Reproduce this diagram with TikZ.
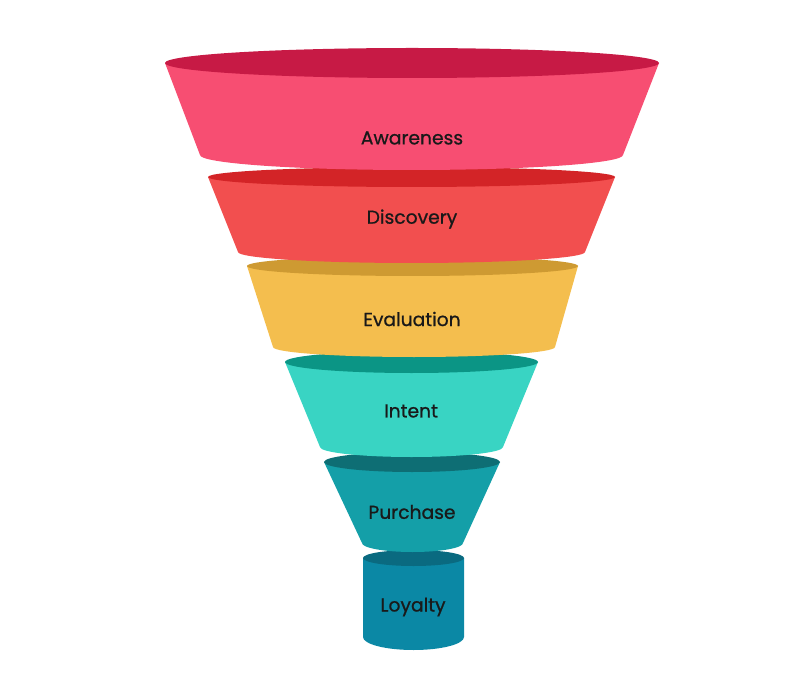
\documentclass[tikz,border=0pt]{standalone}
\usepackage{fontspec}
\setmainfont{Poppins}
\newfontfamily\lblfont[FakeBold=0.8]{Poppins}
\definecolor{awareside}{HTML}{F74E72}
\definecolor{awaretop}{HTML}{C71A45}
\definecolor{discside}{HTML}{F24F4F}
\definecolor{disctop}{HTML}{D32427}
\definecolor{evalside}{HTML}{F4BE4E}
\definecolor{evaltop}{HTML}{CE9A32}
\definecolor{intside}{HTML}{39D4C3}
\definecolor{inttop}{HTML}{0B9585}
\definecolor{purchside}{HTML}{149FA8}
\definecolor{purchtop}{HTML}{0E6E74}
\definecolor{loyside}{HTML}{0B88A5}
\definecolor{loytop}{HTML}{0A6A80}
\tikzset{
  lbl/.style={text=black!90, font=\lblfont\fontsize{13.3}{15}\selectfont}
}

\begin{document}
\begin{tikzpicture}[x=0.025cm, y=0.025cm]
\useasboundingbox (0,0) rectangle (800,-681);
\fill [loyside] (363,-558) -- (363,-637) arc [start angle=180, end angle=360, x radius=50.5, y radius=13] -- (464,-558) -- cycle;
\fill [loytop] (413.5,-558) ellipse [x radius=50.5, y radius=8];
\node (loyalty) [lbl] at (413,-607) {Loyalty};
\fill [purchside] (324,-462) -- (362,-543) arc [start angle=180, end angle=360, x radius=50.5, y radius=9] -- (500,-462) -- cycle;
\fill [purchtop] (412,-462) ellipse [x radius=88, y radius=10];
\node (purchase) [lbl] at (412,-512) {Purchase};
\fill [intside] (285,-362) -- (320,-447) arc [start angle=180, end angle=360, x radius=91.5, y radius=10] -- (538,-362) -- cycle;
\fill [inttop] (411.5,-362) ellipse [x radius=126.5, y radius=11];
\node (intent) [lbl] at (411,-411) {Intent};
\fill [evalside] (247,-266) -- (273,-347) arc [start angle=180, end angle=360, x radius=141, y radius=10] -- (578,-266) -- cycle;
\fill [evaltop] (412.5,-266) ellipse [x radius=165.5, y radius=10];
\node (evaluation) [lbl] at (412,-319) {Evaluation};
\fill [discside] (208,-177) -- (238,-252) arc [start angle=180, end angle=360, x radius=173.5, y radius=11] -- (615,-177) -- cycle;
\fill [disctop] (411.5,-177) ellipse [x radius=203.5, y radius=10];
\node (discovery) [lbl] at (412,-219) {Discovery};
\fill [awareside] (165,-63) -- (200,-155) arc [start angle=180, end angle=360, x radius=211.5, y radius=15] -- (659,-63) -- cycle;
\fill [awaretop] (412,-63) ellipse [x radius=247, y radius=15];
\node (awareness) [lbl] at (412,-138) {Awareness};
\end{tikzpicture}
\end{document}
